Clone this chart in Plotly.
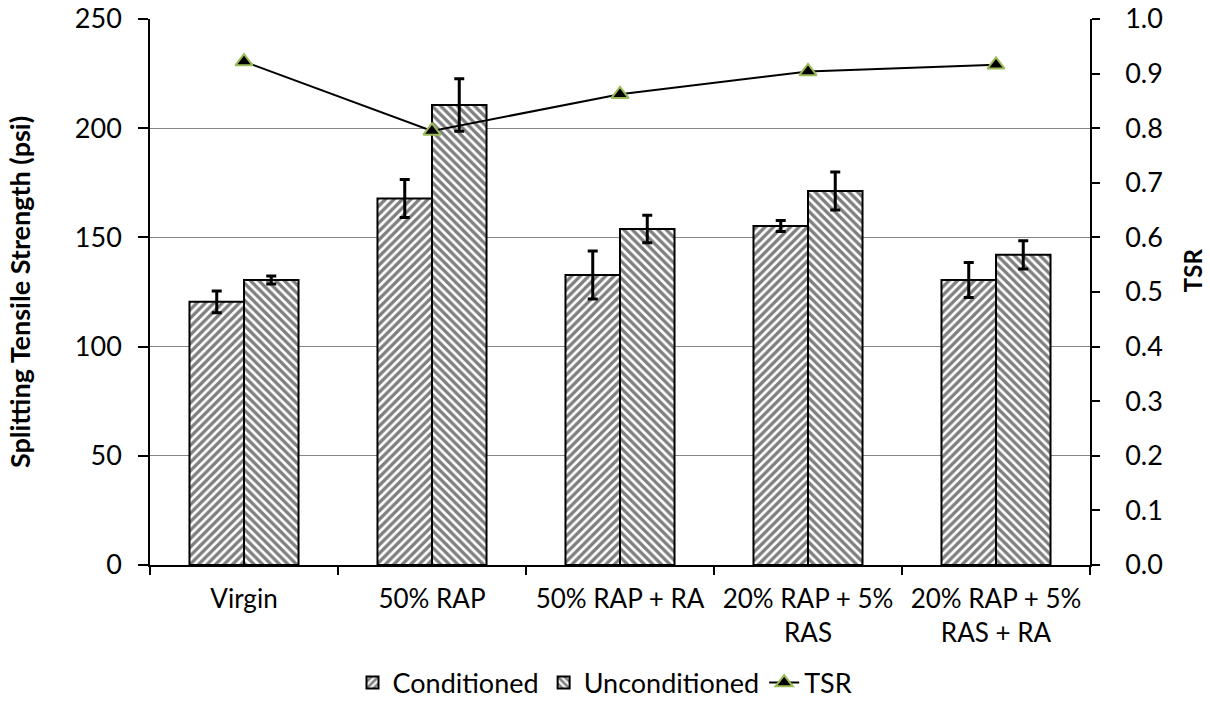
import plotly.graph_objects as go

categories = ["Virgin", "50% RAP", "50% RAP + RA", "20% RAP + 5%<br>RAS", "20% RAP + 5%<br>RAS + RA"]
conditioned = [120.5, 167.8, 132.8, 155.2, 130.5]
conditioned_err = [5.0, 8.7, 11.0, 2.5, 8.0]
unconditioned = [130.5, 210.6, 153.8, 171.2, 142.0]
unconditioned_err = [1.8, 12.0, 6.3, 8.7, 6.5]
tsr = [0.922, 0.795, 0.862, 0.904, 0.916]

FONT = "Lato, 'Open Sans', sans-serif"

fig = go.Figure()
fig.add_trace(go.Bar(
    x=categories, y=conditioned, name="Conditioned",
    marker=dict(color="white", line=dict(color="black", width=2),
                pattern=dict(shape="/", fgcolor="black", bgcolor="white", size=6, solidity=0.55)),
    error_y=dict(type="data", array=conditioned_err, color="black", thickness=3, width=5),
))
fig.add_trace(go.Bar(
    x=categories, y=unconditioned, name="Unconditioned",
    marker=dict(color="white", line=dict(color="black", width=2),
                pattern=dict(shape="\\", fgcolor="black", bgcolor="white", size=6, solidity=0.55)),
    error_y=dict(type="data", array=unconditioned_err, color="black", thickness=3, width=5),
))
fig.add_trace(go.Scatter(
    x=categories, y=tsr, name="TSR", yaxis="y2", mode="lines+markers",
    line=dict(color="black", width=2),
    marker=dict(symbol="triangle-up", size=15, color="black", line=dict(color="#9BBB59", width=2)),
))

fig.update_layout(
    width=1210, height=702,
    margin=dict(l=150, r=120, t=19, b=137, autoexpand=False),
    paper_bgcolor="white", plot_bgcolor="white",
    font=dict(family=FONT, size=26, color="black"),
    barmode="group", bargap=0.42, bargroupgap=0,
    xaxis=dict(showline=True, linecolor="black", linewidth=1.5, ticks="outside",
               tickson="boundaries", ticklen=8, tickcolor="black", tickwidth=1.5,
               tickfont=dict(size=26), ticklabelstandoff=10),
    yaxis=dict(range=[0, 250], dtick=50, showline=True, linecolor="black", linewidth=1.5,
               ticks="outside", ticklen=10, tickcolor="black", tickwidth=1.5,
               tickfont=dict(size=27), ticklabelstandoff=11,
               showgrid=True, gridcolor="#868686", gridwidth=1, zeroline=False,
               title=dict(text="<b>Splitting Tensile Strength (psi)</b>", font=dict(size=27), standoff=36)),
    yaxis2=dict(range=[0, 1], dtick=0.1, tickformat=".1f", overlaying="y", side="right",
                showline=True, linecolor="black", linewidth=1.5, ticks="outside", ticklen=8,
                tickcolor="black", tickwidth=1.5, tickfont=dict(size=27), ticklabelstandoff=20,
                showgrid=False, zeroline=False),
    annotations=[dict(text="<b>TSR</b>", xref="paper", yref="paper", x=1.1085, y=0.54,
                      xanchor="center", yanchor="middle", textangle=-90, showarrow=False,
                      font=dict(size=24))],
    legend=dict(orientation="h", x=0.5, xanchor="center", xref="container",
                y=0.027, yanchor="middle", yref="container",
                font=dict(size=27), traceorder="normal"),
    showlegend=True,
)

fig.write_html("out.html")
